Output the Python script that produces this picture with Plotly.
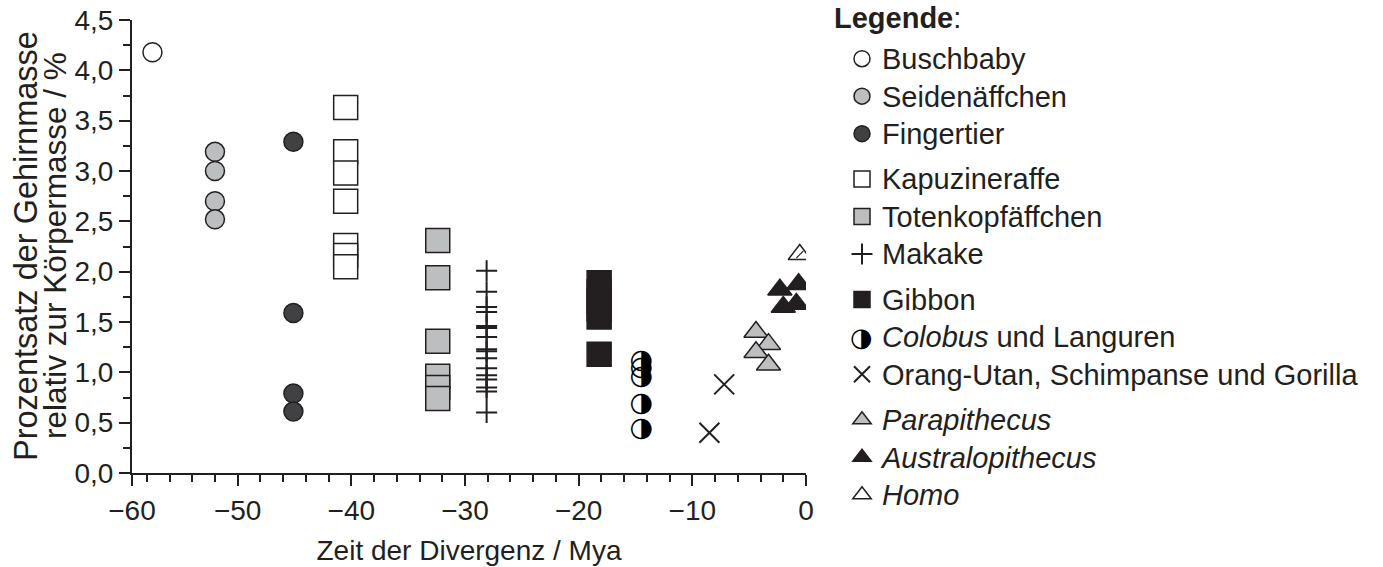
import plotly.graph_objects as go

# ---------------- data ----------------
busch_x = [-57.5]
busch_y = [4.18]
seiden_x = [-52.0, -52.0, -52.0, -52.0]
seiden_y = [3.19, 3.00, 2.70, 2.52]
finger_x = [-45.1, -45.1, -45.1, -45.1]
finger_y = [3.29, 1.59, 0.79, 0.61]
kapuz_x = [-40.5, -40.5, -40.5, -40.5, -40.5, -40.5, -40.5]
kapuz_y = [3.63, 3.19, 2.98, 2.70, 2.26, 2.16, 2.05]
toten_x = [-32.4, -32.4, -32.4, -32.4, -32.4, -32.4]
toten_y = [2.31, 1.94, 1.31, 0.96, 0.85, 0.74]
makake_x = [-28.1, -28.1, -28.1, -28.1, -28.1, -28.1, -28.1, -28.1,
            -28.1, -28.1, -28.1, -28.1, -28.1, -28.1, -28.1, -28.1]
makake_y = [2.01, 1.80, 1.65, 1.60, 1.46, 1.44, 1.35, 1.23,
            1.21, 1.14, 1.04, 0.97, 0.93, 0.85, 0.81, 0.60]
gibbon_x = [-18.2, -18.2, -18.2, -18.2, -18.2, -18.2]
gibbon_y = [1.89, 1.80, 1.71, 1.63, 1.55, 1.18]
colobus_x = [-14.5, -14.5, -14.5, -14.5, -14.5]
colobus_y = [1.11, 1.04, 0.95, 0.685, 0.43]
ape_x = [-7.2, -8.5]
ape_y = [0.88, 0.40]
para_x = [-4.4, -3.3, -4.4, -3.3]
para_y = [1.40, 1.28, 1.20, 1.075]
austr_x = [-2.3, -0.65, -2.0, -0.85]
austr_y = [1.82, 1.875, 1.65, 1.68]
homo_x = [-0.55]
homo_y = [2.17]

x_tickvals = [-59.3, -50, -40, -30, -20, -10, 0]
x_ticktext = ["\u221260", "\u221250", "\u221240", "\u221230", "\u221220", "\u221210", "0"]
y_title_lines = ["Prozentsatz der Gehirnmasse", "relativ zur Körpermasse / %"]

# ---------------- styling ----------------
INK = "#231f20"
LIGHT = "#bcbec0"
DARK = "#414042"
FONT = "Liberation Sans"
LEG_FS = 29


def nm(t):
    return '<span style="font-size:%dpx">%s</span>' % (LEG_FS, t)


fig = go.Figure()


def add(x, y, name, symbol, size, fill, group, lw=1.5, showlegend=True):
    fig.add_trace(go.Scatter(
        x=x, y=y, mode="markers", name=nm(name), legendgroup=group,
        showlegend=showlegend,
        marker=dict(symbol=symbol, size=size, color=fill,
                    line=dict(color=INK, width=lw)),
        hoverinfo="x+y"))


add(busch_x, busch_y, "Buschbaby", "circle", 19, "white", "g1")
add(seiden_x, seiden_y, "Seidenäffchen", "circle", 19, LIGHT, "g1")
add(finger_x, finger_y, "Fingertier", "circle", 19, DARK, "g1")
add(kapuz_x, kapuz_y, "Kapuzineraffe", "square", 24, "white", "g2")
add(toten_x, toten_y, "Totenkopfäffchen", "square", 24, LIGHT, "g2")
add(makake_x, makake_y, "Makake", "cross-thin", 15, INK, "g2", lw=2)
add(gibbon_x, gibbon_y, "Gibbon", "square", 24, INK, "g3")

# Colobus: half-filled circle glyph
fig.add_trace(go.Scatter(
    x=colobus_x, y=colobus_y, mode="text", text="\u25D1",
    textfont=dict(family="DejaVu Sans", size=27, color="#000000"),
    showlegend=False, legendgroup="g3", hoverinfo="x+y"))
fig.add_trace(go.Scatter(
    x=[None], y=[None], mode="markers", legendgroup="g3",
    name=nm("<i>Colobus</i> und Languren"),
    marker=dict(size=16, color="rgba(0,0,0,0)")))

add(ape_x, ape_y, "Orang-Utan, Schimpanse und Gorilla", "x-thin", 20, INK, "g3", lw=2)
add(para_x, para_y, "<i>Parapithecus</i>", "triangle-up", 21, LIGHT, "g4")
add(austr_x, austr_y, "<i>Australopithecus</i>", "triangle-up", 21, INK, "g4")
add(homo_x, homo_y, "<i>Homo</i>", "triangle-up", 20, "white", "g4")
fig.add_trace(go.Scatter(
    x=homo_x, y=homo_y, mode="markers", showlegend=False, legendgroup="g4",
    marker=dict(symbol="line-ne", size=7, line=dict(color=INK, width=1.2)),
    hoverinfo="skip"))

W, H = 1383, 567
# plot area on screen: x 132..806, y 20..473
L, T = 132, 20
R, B = W - 806, H - 473
PW, PH = W - L - R, H - T - B


def px2paper(sx, sy):
    return (sx - L) / PW, (H - B - sy) / PH


lx, ly = px2paper(832, 18)
cx, cy = px2paper(861, 337)
t1x, t1y = px2paper(26, 246)
t2x, t2y = px2paper(55, 246)

annotations = [
    dict(text="<b>Legende</b>:", xref="paper", yref="paper", x=lx, y=ly,
         xanchor="left", yanchor="middle", showarrow=False,
         font=dict(family=FONT, size=LEG_FS, color=INK)),
    dict(text="\u25D1", xref="paper", yref="paper", x=cx, y=cy,
         xanchor="center", yanchor="middle", showarrow=False,
         font=dict(family="DejaVu Sans", size=26, color="#000000")),
    dict(text=y_title_lines[0], xref="paper", yref="paper", x=t1x, y=t1y,
         xanchor="center", yanchor="middle", textangle=-90, showarrow=False,
         font=dict(family=FONT, size=32.5, color=INK)),
    dict(text=y_title_lines[1], xref="paper", yref="paper", x=t2x, y=t2y,
         xanchor="center", yanchor="middle", textangle=-90, showarrow=False,
         font=dict(family=FONT, size=31.5, color=INK)),
]

fig.update_layout(
    width=W, height=H, autosize=False,
    margin=dict(l=L, r=R, t=T, b=B, pad=0, autoexpand=False),
    paper_bgcolor="white", plot_bgcolor="white",
    separators=",.",
    font=dict(family=FONT, color=INK, size=28),
    showlegend=True,
    legend=dict(
        xref="container", yref="container",
        x=842 / W, y=1 - 35 / H, xanchor="left", yanchor="top",
        maxheight=550,
        font=dict(family=FONT, size=26.5, color=INK),
        tracegroupgap=8, traceorder="grouped", itemsizing="trace",
        bgcolor="rgba(0,0,0,0)", borderwidth=0),
    annotations=annotations,
)

fig.update_xaxes(
    range=[-59.3, 0], tickmode="array", tickvals=x_tickvals, ticktext=x_ticktext,
    automargin=False, ticklabeloverflow="allow",
    showgrid=False, zeroline=False, showline=True, linecolor=INK, linewidth=2,
    ticks="outside", ticklen=11, tickwidth=2, tickcolor=INK,
    tickfont=dict(family=FONT, size=28, color=INK),
    minor=dict(dtick=2, tick0=0, ticks="outside", ticklen=7, tickwidth=2, tickcolor=INK),
    title=dict(text="Zeit der Divergenz / Mya", font=dict(family=FONT, size=28, color=INK),
               standoff=16),
)
fig.update_yaxes(
    range=[0, 4.5], dtick=0.5, tick0=0, tickformat=".1f",
    automargin=False, ticklabeloverflow="allow",
    showgrid=False, zeroline=False, showline=True, linecolor=INK, linewidth=2,
    ticks="outside", ticklen=11, tickwidth=2, tickcolor=INK,
    tickfont=dict(family=FONT, size=28, color=INK),
    minor=dict(dtick=0.25, tick0=0, ticks="outside", ticklen=7, tickwidth=2, tickcolor=INK),
)

fig.write_html("out.html",
               config={"displayModeBar": False},
               post_script="document.body.style.margin='0px';"
                           "document.body.style.overflow='hidden';")
